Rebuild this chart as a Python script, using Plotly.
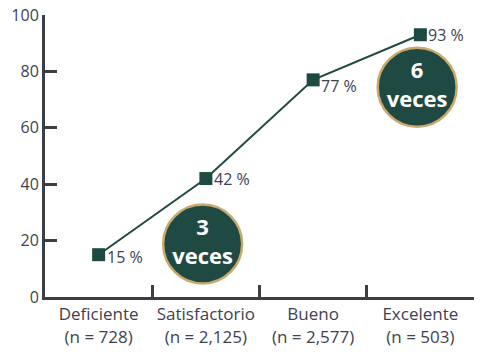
import plotly.graph_objects as go

categories = ["Deficiente<br>(n = 728)", "Satisfactorio<br>(n = 2,125)",
              "Bueno<br>(n = 2,577)", "Excelente<br>(n = 503)"]
values = [15, 42, 77, 93]
value_labels = ["15 %", "42 %", "77 %", "93 %"]
y_ticks = [0, 20, 40, 60, 80, 100]

badge_x = [0.97, 2.97]
badge_y = [18.8, 74.4]
badge_text = ["3<br>veces", "6<br>veces"]

GREEN = "#1f4a43"
AXIS = "#3b3e44"
TEXT = "#3e4250"
GOLD = "#c9a96e"
label_yshift = [-2, 0, -6, 0]

fig = go.Figure()
fig.add_trace(go.Scatter(
    x=categories, y=values, mode="lines+markers",
    line=dict(color=GREEN, width=2),
    marker=dict(symbol="square", size=13, color=GREEN),
    cliponaxis=False, showlegend=False,
))

for cat, val, lab, ys in zip(categories, values, value_labels, label_yshift):
    fig.add_annotation(
        x=cat, y=val, text=lab, showarrow=False,
        xanchor="left", yanchor="middle", xshift=6, yshift=ys,
        font=dict(family="Open Sans", size=16, color=TEXT),
    )

fig.add_trace(go.Scatter(
    x=badge_x, y=badge_y, mode="markers+text", xaxis="x2",
    marker=dict(size=79, color=GREEN, line=dict(color=GOLD, width=2.5)),
    text=badge_text, textposition="middle center",
    textfont=dict(family="Open Sans", size=22, color="white", weight="bold"),
    cliponaxis=False, showlegend=False, hoverinfo="skip",
))

fig.update_layout(
    template="none",
    width=501, height=363,
    margin=dict(l=45, r=27, t=15, b=66),
    paper_bgcolor="white", plot_bgcolor="white",
    font=dict(family="Open Sans", size=16, color=TEXT),
    xaxis=dict(
        type="category", range=[-0.5, 3.5], tickson="boundaries",
        ticks="inside", ticklen=12, tickwidth=3, tickcolor=AXIS,
        showline=True, linecolor=AXIS, linewidth=3, tickangle=0,
        showgrid=False, zeroline=False, automargin=False,
        tickfont=dict(size=17, color=TEXT),
    ),
    xaxis2=dict(overlaying="x", range=[-0.5, 3.5], visible=False),
    yaxis=dict(
        range=[0, 100], tickvals=y_ticks,
        ticks="inside", ticklen=12, tickwidth=3, tickcolor=AXIS,
        showline=True, linecolor=AXIS, linewidth=3,
        showgrid=False, zeroline=False, automargin=False,
        tickfont=dict(size=16, color=TEXT),
    ),
)

fig.write_html("out.html", config={"displayModeBar": False},
               post_script="document.body.style.margin='0';")
